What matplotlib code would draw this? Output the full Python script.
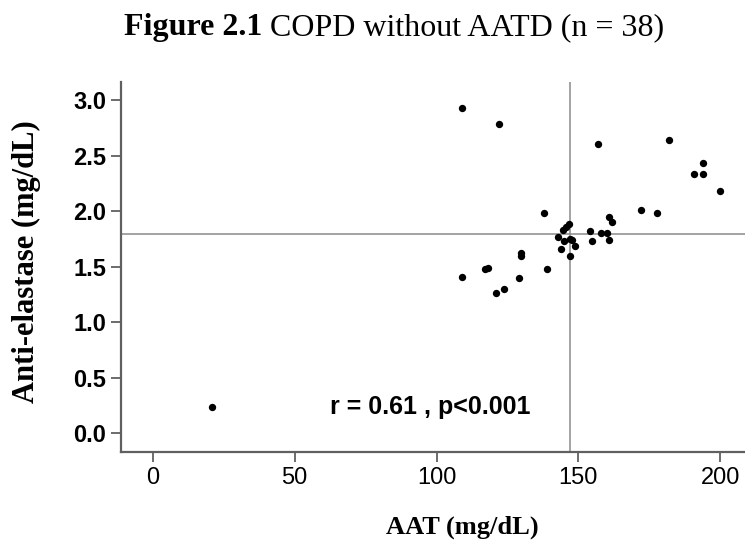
import matplotlib
matplotlib.use('Agg')
import matplotlib.pyplot as plt

# AAT vs anti-elastase, COPD without AATD
aat = [21.0, 109.0, 121.9, 109.0, 116.9, 118.0, 120.9, 123.9, 128.9, 129.9,
       129.9, 137.9, 138.8, 156.9, 181.9, 193.9, 190.9, 193.9, 199.9, 171.9,
       177.8, 160.9, 161.8, 153.9, 157.8, 160.0, 154.9, 160.9, 146.8, 145.7,
       144.7, 142.9, 144.9, 147.0, 147.9, 148.9, 143.9, 146.9]
anti_elastase = [0.24, 2.93, 2.78, 1.41, 1.48, 1.49, 1.26, 1.30, 1.40, 1.62,
                 1.60, 1.98, 1.48, 2.60, 2.64, 2.43, 2.33, 2.33, 2.18, 2.01,
                 1.98, 1.95, 1.90, 1.82, 1.80, 1.80, 1.73, 1.74, 1.88, 1.86,
                 1.83, 1.77, 1.73, 1.75, 1.74, 1.69, 1.66, 1.60]

x_ticks = [0, 50, 100, 150, 200]
y_ticks = [0.0, 0.5, 1.0, 1.5, 2.0, 2.5, 3.0]
x_ref = 147.0   # reference lines
y_ref = 1.79
stats_text = 'r = 0.61 , p<0.001'

sans = 'Liberation Sans'
serif = 'Liberation Serif'

fig = plt.figure(figsize=(7.45, 5.45), dpi=100)
ax = fig.add_axes([121.3 / 745, 93.3 / 545, 1 - 121.3 / 745, 370 / 545])

ax.scatter(aat, anti_elastase, s=28, color='black', zorder=3, linewidths=0)
ax.axvline(x_ref, color='#8a8a8a', lw=1.1, zorder=2)
ax.axhline(y_ref, color='#8a8a8a', lw=1.1, zorder=2)

ax.set_xlim(-11.1, 208.7)
ax.set_ylim(-0.166, 3.165)
ax.set_xticks(x_ticks)
ax.set_yticks(y_ticks)
ax.set_yticklabels(['%.1f' % v for v in y_ticks], fontfamily=sans,
                   fontweight='bold', fontsize=17)
ax.set_xticklabels([str(v) for v in x_ticks], fontfamily=sans, fontsize=17)

for s in ['top', 'right']:
    ax.spines[s].set_visible(False)
for s in ['left', 'bottom']:
    ax.spines[s].set_color('#606060')
    ax.spines[s].set_linewidth(1.6)
ax.tick_params(axis='both', colors='#606060', labelcolor='black', width=1.3,
               length=7, pad=4)

ax.text(62.5, 0.24, stats_text, fontfamily=sans, fontweight='bold',
        fontsize=18, ha='left', va='center')

# axis labels
fig.text(462 / 745, 1 - 533.5 / 545, 'AAT (mg/dL)', fontfamily=serif,
         fontweight='bold', fontsize=19, ha='center', va='baseline')
fig.text(26 / 745, 1 - 262 / 545, 'Anti-elastase (mg/dL)', fontfamily=serif,
         fontweight='bold', fontsize=22, ha='center', va='center',
         rotation=90)

# title: bold part then regular part
t1 = fig.text(124 / 745, 1 - 35 / 545, 'Figure 2.1', fontfamily=serif,
              fontweight='bold', fontsize=23, ha='left', va='baseline')
fig.canvas.draw()
bb = t1.get_window_extent()
fig.text(bb.x1 / fig.bbox.width, 1 - 35 / 545, ' COPD without AATD (n = 38)',
         fontfamily=serif, fontsize=23, ha='left', va='baseline')

fig.savefig('out.png', dpi=100)
